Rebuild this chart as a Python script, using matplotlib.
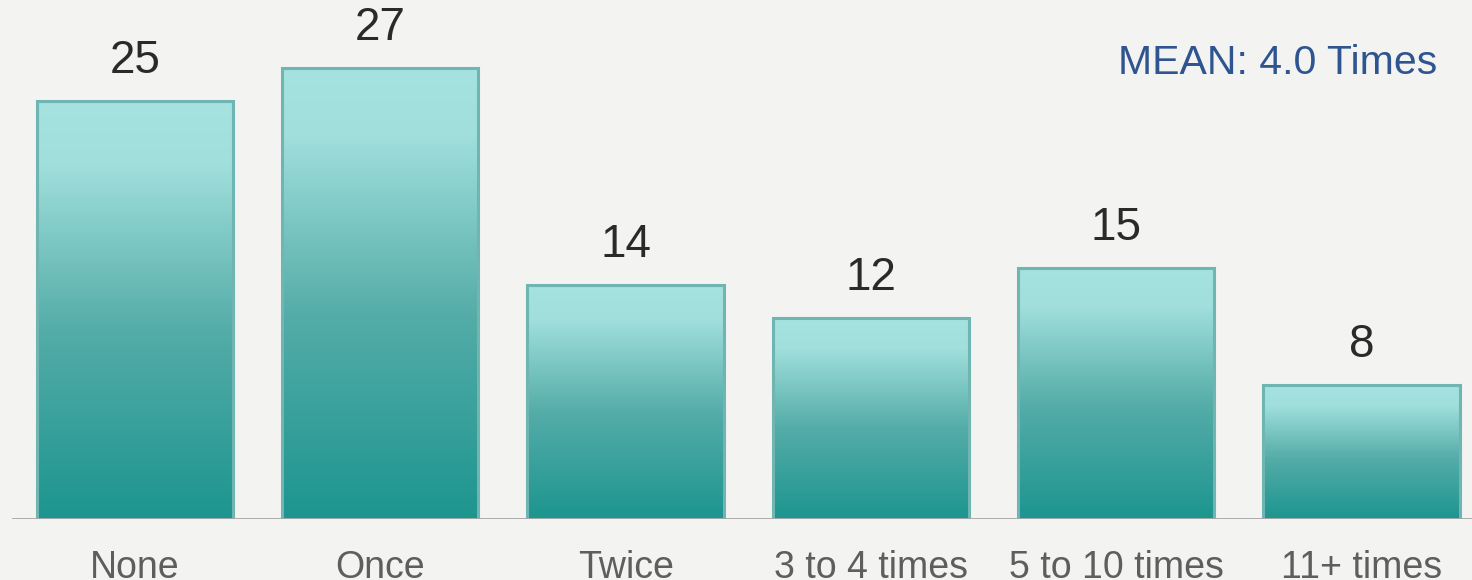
import numpy as np
import matplotlib.pyplot as plt
from matplotlib.colors import LinearSegmentedColormap
from matplotlib.patches import Rectangle

plt.rcParams['font.family'] = ['Liberation Sans', 'DejaVu Sans']

categories = ['None', 'Once', 'Twice', '3 to 4 times', '5 to 10 times', '11+ times']
values = [25, 27, 14, 12, 15, 8]
mean_label = 'MEAN: 4.0 Times'

W, H = 1472, 580
fig = plt.figure(figsize=(W / 100, H / 100), dpi=100)
fig.patch.set_facecolor('#f3f3f2')
ax = fig.add_axes([0, 61 / H, 1, 1 - 61 / H])
ax.set_facecolor('#f3f3f2')
for s in ax.spines.values():
    s.set_visible(False)

ax.set_xlim(-0.55, 5.45)
ax.set_ylim(0, 519 / 16.72)

cmap = LinearSegmentedColormap.from_list(
    'teal', [(0, '#1d958f'), (0.45, '#54aca8'), (0.85, '#a0dfdc'), (1, '#a6e3e0')])
grad = np.linspace(0, 1, 256).reshape(-1, 1)
width = 0.8
fam = ['Liberation Sans', 'DejaVu Sans']

for i, v in enumerate(values):
    x0 = i - width / 2
    ax.imshow(grad, cmap=cmap, aspect='auto', origin='lower',
              extent=(x0, x0 + width, 0, v), zorder=2, interpolation='bilinear')
    ax.add_patch(Rectangle((x0, 0), width, v, fill=False, edgecolor='#6fb6b2',
                           linewidth=2.2, zorder=3))
    ax.annotate(str(v), (i, v), xytext=(0, 13), textcoords='offset points',
                ha='center', va='bottom', fontsize=33, color='#2a2a2a', family=fam)

ax.axhline(0, xmin=13 / W, xmax=1, color='#a5a5a5', linewidth=2, zorder=4)

ax.set_xticks(range(len(categories)))
ax.set_xticklabels(categories, fontsize=27, color='#5e5e5e', family=fam)
ax.tick_params(axis='x', length=0, pad=22)
ax.set_yticks([])

ax.text(1437 / W, 1 - 63 / (H - 61), mean_label, transform=ax.transAxes,
        ha='right', va='center', fontsize=29.5, color='#2f5590', family=fam)

fig.savefig('out.png', dpi=100, facecolor=fig.get_facecolor())
